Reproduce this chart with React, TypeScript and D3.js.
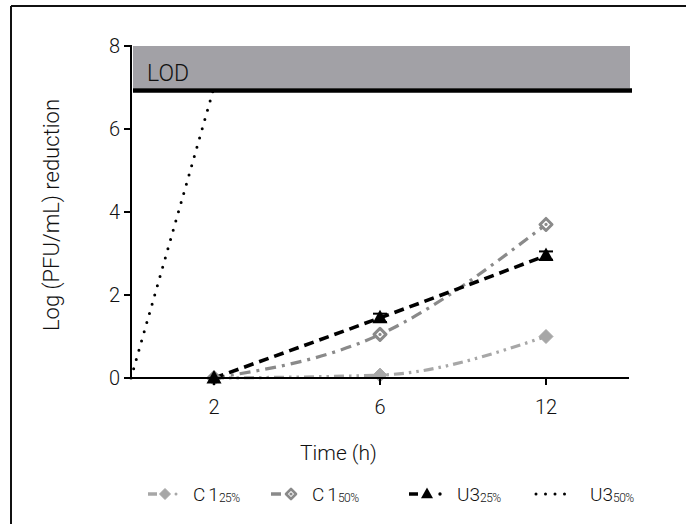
import React from "react";
import * as d3 from "d3";

// Sampling times (h) and the slot each occupies along the x axis
const times = [2, 6, 12];
const timeSlots: Record<number, number> = { 0: 0, 2: 1, 6: 3, 12: 5 };
const yTicks = [0, 2, 4, 6, 8];
const lod = 6.93;

// Log reduction per series
const c1_25 = [0, 0.07, 1.0];
const c1_50 = [0, 1.05, 3.7];
const u3_25 = [0, 1.45, 2.95];
const u3_25Err = [0, 0.1, 0.1];
const u3_50Times = [0, 2];
const u3_50 = [0, 7];

const W = 686;
const H = 524;
const FONT = "Roboto, 'Liberation Sans', Arial, sans-serif";
const GRAY_LIGHT = "#a7a7a7";
const GRAY_MID = "#8a8a8a";

const x = d3.scaleLinear().domain([0, 6]).range([131, 629]);
const y = d3.scaleLinear().domain([0, 8]).range([378, 46]);

type Pt = [number, number];
const line = d3
  .line<Pt>()
  .x((d) => x(timeSlots[d[0]]))
  .y((d) => y(d[1]))
  .curve(d3.curveMonotoneX);

const zip = (ts: number[], vs: number[]): Pt[] => ts.map((t, i) => [t, vs[i]]);

function Diamond({ cx, cy, r, fill, stroke, sw, dot }: any) {
  const p = `M${cx},${cy - r}L${cx + r},${cy}L${cx},${cy + r}L${cx - r},${cy}Z`;
  return (
    <g>
      <path d={p} fill={fill} stroke={stroke} strokeWidth={sw} strokeLinejoin="round" />
      {dot ? <circle cx={cx} cy={cy} r={1.6} fill={stroke} /> : null}
    </g>
  );
}

function Triangle({ cx, cy, s, fill }: any) {
  const h = s * 0.9;
  const p = `M${cx},${cy - h * 0.6}L${cx + s / 2},${cy + h * 0.4}L${cx - s / 2},${cy + h * 0.4}Z`;
  return <path d={p} fill={fill} />;
}

export default function App() {
  const legendY = 494;
  const legendItems = [
    { label: "C1", sub: "25%" },
    { label: "C1", sub: "50%" },
    { label: "U3", sub: "25%" },
    { label: "U3", sub: "50%" },
  ];
  const labelX = [193, 312, 457, 590];

  return (
    <svg
      width={W}
      height={H}
      style={{ position: "absolute", left: 0, top: 0, background: "#fff" }}
      fontFamily={FONT}
      fontWeight={300}
    >
      {/* frame */}
      <line x1={11} y1={6} x2={W} y2={6} stroke="#111" strokeWidth={2} />
      <line x1={11} y1={6} x2={11} y2={H} stroke="#111" strokeWidth={2} />

      {/* series lines */}
      <path
        d={line(zip(times, c1_25)) || ""}
        fill="none"
        stroke={GRAY_LIGHT}
        strokeWidth={3.2}
        strokeDasharray="10 5 2.5 5 2.5 5"
      />
      <path
        d={line(zip(times, c1_50)) || ""}
        fill="none"
        stroke={GRAY_MID}
        strokeWidth={3.2}
        strokeDasharray="11 6 3 6"
      />
      <path
        d={line(zip(times, u3_25)) || ""}
        fill="none"
        stroke="#000"
        strokeWidth={3.6}
        strokeDasharray="10 6"
      />
      <path
        d={d3.line<Pt>().x((d) => x(timeSlots[d[0]])).y((d) => y(d[1]))(zip(u3_50Times, u3_50)) || ""}
        fill="none"
        stroke="#000"
        strokeWidth={3}
        strokeLinecap="round"
        strokeDasharray="0 9.6"
      />

      {/* markers */}
      {times.map((t, i) => (
        <Diamond key={"a" + t} cx={x(timeSlots[t])} cy={y(c1_25[i])} r={7} fill={GRAY_LIGHT} stroke={GRAY_LIGHT} sw={1} />
      ))}
      {times.map((t, i) => (
        <Diamond key={"b" + t} cx={x(timeSlots[t])} cy={y(c1_50[i])} r={6} fill="#fff" stroke={GRAY_MID} sw={3} dot />
      ))}
      {times.map((t, i) => {
        const cx = x(timeSlots[t]);
        const e = u3_25Err[i];
        return (
          <g key={"c" + t}>
            {e > 0 ? (
              <g stroke="#000" strokeWidth={2}>
                <line x1={cx} x2={cx} y1={y(u3_25[i] - e)} y2={y(u3_25[i] + e)} />
                <line x1={cx - 7} x2={cx + 7} y1={y(u3_25[i] + e)} y2={y(u3_25[i] + e)} />
                <line x1={cx - 7} x2={cx + 7} y1={y(u3_25[i] - e)} y2={y(u3_25[i] - e)} />
              </g>
            ) : null}
            <Triangle cx={cx} cy={y(u3_25[i])} s={15} fill="#000" />
          </g>
        );
      })}

      {/* limit of detection */}
      <rect x={x(0) + 2} y={y(8)} width={x(6) - x(0) - 1} height={y(lod) - y(8) - 2} fill="#a2a1a6" />
      <line x1={x(0) + 2} x2={x(6) + 3} y1={y(lod)} y2={y(lod)} stroke="#000" strokeWidth={4.5} />
      <text x={147} y={81} fontSize={23} fill="#111">LOD</text>

      {/* axes */}
      <g stroke="#000" strokeWidth={2} fill="none">
        <line x1={x(0)} x2={x(0)} y1={y(8) - 1} y2={y(0)} />
        <line x1={x(0) - 1} x2={x(6)} y1={y(0)} y2={y(0)} />
        {yTicks.map((v) => (
          <line key={v} x1={x(0) - 7} x2={x(0)} y1={y(v)} y2={y(v)} />
        ))}
        {times.map((t) => (
          <line key={t} x1={x(timeSlots[t])} x2={x(timeSlots[t])} y1={y(0)} y2={y(0) + 7} />
        ))}
      </g>
      {yTicks.map((v) => (
        <text key={v} x={x(0) - 11} y={y(v) + 7} fontSize={20} textAnchor="end" fill="#111">
          {v}
        </text>
      ))}
      {times.map((t) => (
        <text key={t} x={x(timeSlots[t])} y={414} fontSize={20} textAnchor="middle" fill="#111">
          {t}
        </text>
      ))}
      <text
        transform={`translate(59,${(y(0) + y(8)) / 2 + 3}) rotate(-90)`}
        fontSize={22}
        textAnchor="middle"
        fill="#111"
      >
        Log (PFU/mL) reduction
      </text>
      <text x={x(2.5)} y={460} fontSize={21} textAnchor="middle" fill="#111">
        Time (h)
      </text>

      {/* legend */}
      <g>
        <line x1={148} x2={157} y1={legendY} y2={legendY} stroke={GRAY_LIGHT} strokeWidth={3.5} />
        <Diamond cx={165} cy={legendY} r={5.5} fill={GRAY_LIGHT} stroke={GRAY_LIGHT} sw={1} />
        <circle cx={176} cy={legendY} r={1.5} fill={GRAY_LIGHT} />

        <line x1={271} x2={281} y1={legendY} y2={legendY} stroke={GRAY_MID} strokeWidth={3.5} />
        <Diamond cx={291} cy={legendY} r={5} fill="#fff" stroke={GRAY_MID} sw={2.6} dot />

        <line x1={409} x2={418} y1={legendY} y2={legendY} stroke="#000" strokeWidth={3.5} />
        <Triangle cx={427} cy={legendY} s={12} fill="#000" />
        <circle cx={440} cy={legendY} r={1.7} fill="#000" />

        {[0, 1, 2, 3].map((k) => (
          <circle key={k} cx={536 + k * 9.5} cy={legendY} r={1.5} fill="#000" />
        ))}

        {legendItems.map((it, i) => (
          <text key={i} x={labelX[i]} y={legendY + 7} fill="#111" fontSize={19}>
            <tspan letterSpacing={it.label === "C1" ? 3 : 0}>{it.label[0]}</tspan>
            <tspan>{it.label.slice(1)}</tspan>
            <tspan fontSize={12} dy={1} letterSpacing={-0.5}>{it.sub}</tspan>
          </text>
        ))}
      </g>
    </svg>
  );
}
